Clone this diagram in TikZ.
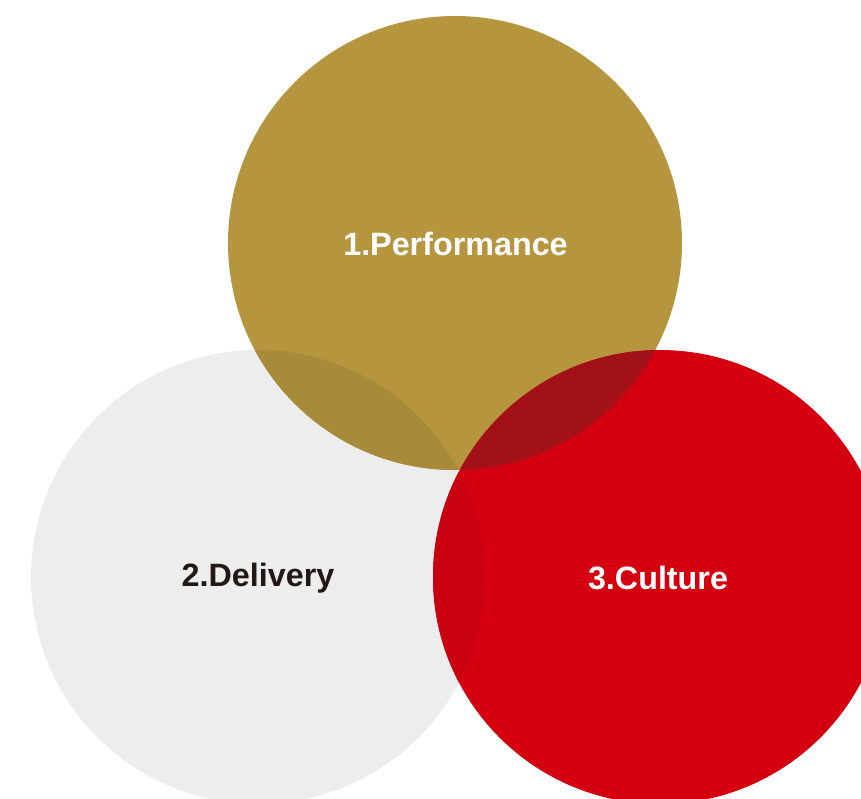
\documentclass[tikz,border=0pt]{standalone}
\usepackage{fontspec}
\setmainfont{Liberation Sans}
\definecolor{goldc}{HTML}{B5963F}
\definecolor{grayc}{HTML}{ECEDEC}
\definecolor{redc}{HTML}{D5000F}
\definecolor{goldgray}{HTML}{A78B3A}
\definecolor{redgray}{HTML}{C9000F}
\definecolor{goldred}{HTML}{A11117}
\definecolor{allthree}{HTML}{981016}
\definecolor{darktext}{HTML}{231815}
\tikzset{
  lbl/.style={font=\fontsize{32.3}{36}\selectfont\bfseries, inner sep=0pt},
}
\begin{document}
\begin{tikzpicture}[x=1pt,y=-1pt]
\useasboundingbox (0,0) rectangle (861,798);
\clip (0,0) rectangle (861,798);
\def\R{227}
\coordinate (cg) at (455,243);
\coordinate (cd) at (258,577);
\coordinate (cr) at (660,577);
\fill[grayc] (cd) circle (\R);
\fill[goldc] (cg) circle (\R);
\fill[redc] (cr) circle (\R);
\begin{scope}
  \clip (cg) circle (\R);
  \fill[goldgray] (cd) circle (\R);
\end{scope}
\begin{scope}
  \clip (cr) circle (\R);
  \fill[redgray] (cd) circle (\R);
\end{scope}
\begin{scope}
  \clip (cr) circle (\R);
  \fill[goldred] (cg) circle (\R);
\end{scope}
\begin{scope}
  \clip (cr) circle (\R);
  \clip (cg) circle (\R);
  \fill[allthree] (cd) circle (\R);
\end{scope}
\node[lbl, text=white] (perf) at (455.5,244) {1.Performance};
\node[lbl, text=darktext] (deliv) at (258,578) {2.Delivery};
\node[lbl, text=white] (cult) at (658,578) {3.Culture};
\end{tikzpicture}
\end{document}
